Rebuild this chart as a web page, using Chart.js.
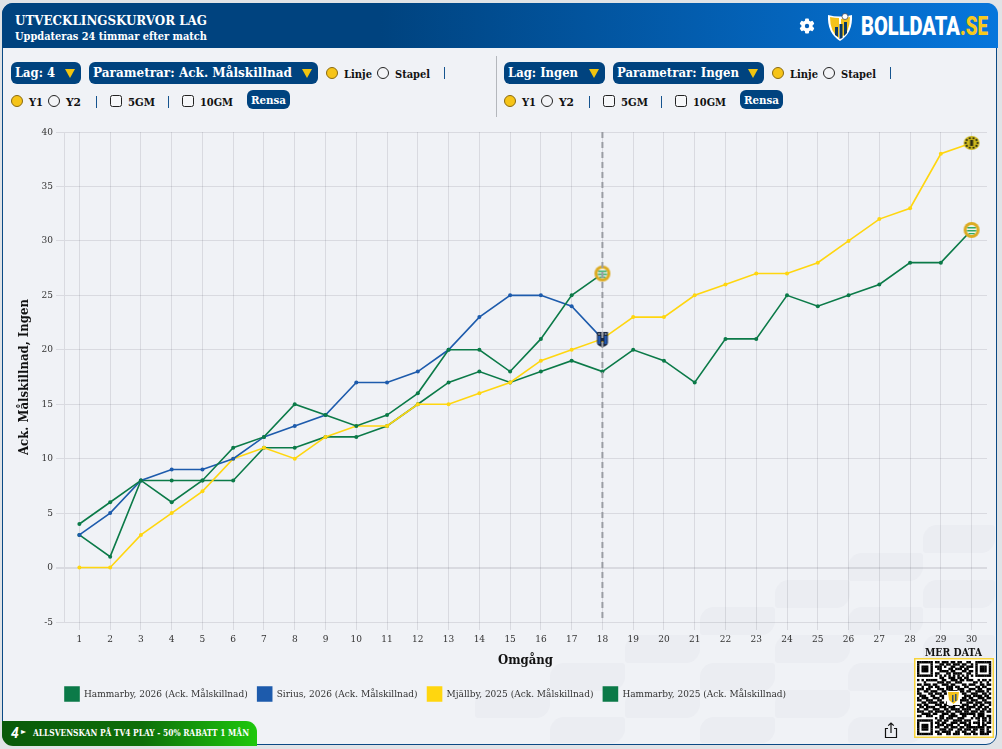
<!DOCTYPE html>
<html lang="sv">
<head>
<meta charset="utf-8">
<title>Utvecklingskurvor lag</title>
<script src="https://cdn.jsdelivr.net/npm/chart.js@4/dist/chart.umd.min.js"></script>
<style>
  html, body { margin: 0; height: 100%; background: #e0e3e6; overflow: hidden; }
  body { font-family: "DejaVu Serif Condensed", "DejaVu Serif", serif; }
  #card { position: absolute; left: 2px; top: 3px; width: 993px; height: 740px; border: 1.5px solid #0b4a85;
          border-radius: 11px; background: #f0f2f6; overflow: hidden; }
  #stage { position: absolute; left: 0; top: 0; width: 1002px; height: 749px; }
  #head { position: absolute; left: 2px; top: 3px; width: 996px; height: 45px; border-radius: 11px 11px 0 0;
          background: linear-gradient(90deg, #00437f 0%, #00437f 38%, #0676dc 100%); }
  .t { position: absolute; white-space: nowrap; transform-origin: left center; line-height: 1; }
  .pill { position: absolute; background: #00437f; border-radius: 6px; }
  .tri { position: absolute; width: 0; height: 0; border-left: 5px solid transparent; border-right: 5px solid transparent; border-top: 9px solid #f1c40f; }
  .radio { position: absolute; width: 10px; height: 10px; border: 1px solid #222; border-radius: 50%; background: #f3f4f7; }
  .radio.on { background: #f6c418; border-color: #8a6a10; }
  .check { position: absolute; width: 10px; height: 10px; border: 1px solid #222; border-radius: 2.5px; background: #f6f7f9; }
  .pipe { position: absolute; width: 1.3px; height: 12px; background: #15548f; }
  .blob { position: absolute; width: 75px; height: 27.5px; background: rgba(40,50,70,.022); border-radius: 14px 3px 14px 3px; }
  #chart { position: absolute; left: 0; top: 120px; }
  #ad { position: absolute; left: 2px; top: 721px; width: 255px; height: 25px; border-radius: 0 11px 0 11px;
        background: linear-gradient(90deg, #0a5a0a 0%, #0d6f09 55%, #1ec80c 100%); }
  #qr { position: absolute; left: 914px; top: 658px; }
</style>
</head>
<body>
<div id="stage">
  <div id="card"></div>
  <div id="blobs"></div>
  <div id="head"></div>
  <canvas id="chart" width="1002" height="625"></canvas>
  <div id="ad"></div>
  <canvas id="qr" width="80" height="80"></canvas>
  <svg style="position:absolute;left:799px;top:18px" width="16" height="16" viewBox="0 0 16 16">
    <g fill="#fff"><rect x="6" y="0.5" width="4" height="15" rx="1"/><rect x="6" y="0.5" width="4" height="15" rx="1" transform="rotate(60 8 8)"/><rect x="6" y="0.5" width="4" height="15" rx="1" transform="rotate(120 8 8)"/></g>
    <circle cx="8" cy="8" r="4.2" fill="none" stroke="#fff" stroke-width="3"/><circle cx="8" cy="8" r="2.2" fill="#0660ba"/>
  </svg>
  <svg style="position:absolute;left:827px;top:13px" width="26" height="29" viewBox="0 0 26 29">
    <path d="M1 2 Q13 5 25 2 Q26 20 13 28 Q0 20 1 2Z" fill="#fff"/>
    <path d="M3 4 Q8 5 12 5 L12 25 Q3 19 3 4Z" fill="#f3c21b"/>
    <path d="M14 6 L23 4 Q23 19 14 25Z" fill="#f3c21b"/>
    <path d="M8 14 h3 v10 l-3 -2Z M12.5 11 h3 v14 l-3 1Z M17 9 h3 v11 l-3 3Z" fill="#0b3a66"/>
    <circle cx="18" cy="3.5" r="3" fill="#fff" stroke="#334" stroke-width=".7"/>
  </svg>
  <svg style="position:absolute;left:884px;top:722px" width="14" height="17" viewBox="0 0 14 17" fill="none" stroke="#111" stroke-width="1.2">
    <path d="M4 6.5H1.5V15.5H12.5V6.5H10"/><path d="M7 11V1M4.2 3.6L7 1L9.8 3.6"/>
  </svg>
</div>
<script>
const rounds = ['1','2','3','4','5','6','7','8','9','10','11','12','13','14','15','16','17','18','19','20','21','22','23','24','25','26','27','28','29','30'];
const hammarby2026 = [4,6,8,6,8,11,12,15,14,13,14,16,20,20,18,21,25,27];
const sirius2026 = [3,5,8,9,9,10,12,13,14,17,17,18,20,23,25,25,24,21];
const mjallby2025 = [0,0,3,5,7,10,11,10,12,13,13,15,15,16,17,19,20,21,23,23,25,26,27,27,28,30,32,33,38,39];
const hammarby2025 = [3,1,8,8,8,8,11,11,12,12,13,15,17,18,17,18,19,18,20,19,17,21,21,25,24,25,26,28,28,31];
const seriesNames = ['Hammarby, 2026 (Ack. Målskillnad)','Sirius, 2026 (Ack. Målskillnad)','Mjällby, 2025 (Ack. Målskillnad)','Hammarby, 2025 (Ack. Målskillnad)'];
const currentRound = '18';

const GREEN = '#0b7a48', BLUE = '#1d5bac', YELLOW = '#ffd60f';
const GRID = 'rgba(60,65,80,.13)';
const serif = '"DejaVu Serif Condensed", "DejaVu Serif", serif';

// small crests for the last point of each line
function crest(draw) {
  const c = document.createElement('canvas');
  c.width = 18; c.height = 18;
  draw(c.getContext('2d'));
  return c;
}
const hammarbyCrest = crest(g => {
  g.fillStyle = '#dcab22'; g.beginPath(); g.arc(9, 9, 8, 0, 7); g.fill();
  g.fillStyle = '#eef3ea'; g.beginPath(); g.arc(9, 9, 5, 0, 7); g.fill();
  g.fillStyle = '#2fa865'; g.fillRect(4.8, 6, 8.4, 1.5); g.fillRect(4.4, 9, 9.2, 1.5); g.fillRect(6, 12, 6, 1.2);
});
const siriusCrest = crest(g => {
  g.fillStyle = '#1a2740'; g.beginPath(); g.moveTo(3.5, 2); g.lineTo(14.5, 2); g.lineTo(14.5, 13); g.quadraticCurveTo(14, 16, 9, 17); g.quadraticCurveTo(4, 16, 3.5, 13); g.fill();
  g.fillStyle = '#1f57b0'; g.fillRect(4.5, 6, 2.5, 8); g.fillRect(11, 6, 2.5, 8);
  g.fillStyle = '#9aa3ad'; g.fillRect(5, 3, 1.4, 2); g.fillRect(8.3, 3, 1.4, 2); g.fillRect(11.6, 3, 1.4, 2);
  g.fillStyle = '#e3b82a'; g.fillRect(8.4, 11, 1.3, 2);
});
const mjallbyCrest = crest(g => {
  g.fillStyle = '#cdb81c'; g.beginPath(); g.ellipse(9, 9, 8, 7, 0, 0, 7); g.fill();
  g.fillStyle = '#2b2a12';
  for (let a = 0; a < 10; a++) {
    g.beginPath(); g.arc(9 + 6 * Math.cos(a * 0.628), 9 + 5 * Math.sin(a * 0.628), 1.1, 0, 7); g.fill();
  }
  g.fillRect(7.5, 6, 3, 6);
});

// dashed line at the current round
const roundMarker = {
  id: 'roundMarker',
  afterDatasetsDraw(chart) {
    const x = chart.scales.x.getPixelForValue(rounds.indexOf(currentRound));
    const { top, bottom } = chart.chartArea;
    const g = chart.ctx;
    g.save();
    g.strokeStyle = '#9a9da3'; g.lineWidth = 2; g.setLineDash([6, 4]);
    g.beginPath(); g.moveTo(x, top); g.lineTo(x, bottom); g.stroke();
    g.restore();
  }
};
const legendLeft = {
  id: 'legendLeft',
  afterLayout(chart) { chart.legend.left = 55; chart.legend.top = 557; }
};

function line(label, data, color, badge) {
  return {
    label, data,
    borderColor: color, backgroundColor: color,
    borderWidth: 1.6, tension: 0,
    pointRadius: 2, pointHoverRadius: 2, pointBorderWidth: 0,
    pointStyle: c => c.dataIndex === data.length - 1 ? badge : 'circle'
  };
}

new Chart(document.getElementById('chart'), {
  type: 'line',
  data: {
    labels: rounds,
    datasets: [
      line(seriesNames[0], hammarby2026, GREEN, hammarbyCrest),
      line(seriesNames[1], sirius2026, BLUE, siriusCrest),
      line(seriesNames[2], mjallby2025, YELLOW, mjallbyCrest),
      line(seriesNames[3], hammarby2025, GREEN, hammarbyCrest)
    ]
  },
  options: {
    responsive: false, animation: false, events: [],
    layout: { padding: { left: 8, top: 12, right: 15, bottom: 43 } },
    plugins: {
      tooltip: { enabled: false },
      legend: {
        position: 'bottom', align: 'start',
        labels: { boxWidth: 14, boxHeight: 14, padding: 10, color: '#333', font: { family: serif, size: 10 } }
      }
    },
    scales: {
      x: {
        offset: true,
        afterFit(s) { s.height = 46; },
        grid: { color: GRID, tickLength: 8 },
        border: { display: false },
        ticks: { padding: 3, maxRotation: 0, autoSkip: false, color: '#333', font: { family: serif, size: 10 } },
        title: { display: true, text: 'Omgång', color: '#111', padding: 0, font: { family: serif, size: 13, weight: 'bold' } }
      },
      y: {
        min: -5, max: 40,
        afterFit(s) { s.width = 56; },
        grid: { color: GRID, tickLength: 8, lineWidth: c => c.tick.value === 0 ? 2 : 1 },
        border: { color: GRID },
        ticks: { stepSize: 5, padding: 3, color: '#333', font: { family: serif, size: 10 } },
        title: { display: true, text: 'Ack. Målskillnad, Ingen', color: '#111', padding: { top: 9, bottom: 0 }, font: { family: serif, size: 13, weight: 'bold' } }
      }
    }
  },
  plugins: [roundMarker, legendLeft]
});

// page furniture around the chart
const stage = document.getElementById('stage');
function text(str, x, w, cy, size, color, weight, family) {
  const el = document.createElement('div');
  el.className = 't';
  el.textContent = str;
  el.style.cssText = `left:${x}px;top:${cy}px;font-size:${size}px;color:${color};font-weight:${weight || 'bold'};` + (family ? `font-family:${family};` : '');
  stage.appendChild(el);
  const k = w / el.getBoundingClientRect().width;
  el.style.transform = `translateY(-50%) scaleX(${k})`;
  return el;
}
function box(cls, x, y, w, h) {
  const el = document.createElement('div');
  el.className = cls;
  el.style.left = x + 'px'; el.style.top = y + 'px';
  if (w) { el.style.width = w + 'px'; el.style.height = h + 'px'; }
  stage.appendChild(el);
  return el;
}

const blobSpots = [[923,525],[848,553],[775,580],[923,580],[700,607],[848,607],[625,635],[775,635],[923,635],[550,663],[700,663],[848,663],[475,690],[625,690],[775,690],[923,690],[550,717],[700,717],[848,717]];
const blobs = document.getElementById('blobs');
blobSpots.forEach(([x, y]) => {
  const b = document.createElement('div');
  b.className = 'blob';
  b.style.left = x + 'px'; b.style.top = y + 'px';
  if (x + 75 > 995) b.style.width = (995 - x) + 'px';
  if (y + 27.5 > 743) b.style.height = (743 - y) + 'px';
  blobs.appendChild(b);
});

text('UTVECKLINGSKURVOR LAG', 15, 192, 21, 12.5, '#fff');
text('Uppdateras 24 timmar efter match', 15, 192, 37, 11.5, '#fff');
text('BOLLDATA', 861, 99, 26, 25, '#fff', '900', 'Roboto');
text('.SE', 960, 28, 26, 25, '#f6c91d', '900', 'Roboto');

function panel(dx, lagText, lagW, paramText, paramX, paramW, paramTextW, lagTextW, shift) {
  box('pill', 11 + dx, 62, lagW, 22);
  text(lagText, 15 + dx, lagTextW, 73, 12.5, '#fff');
  box('tri', 11 + dx + lagW - 16, 69);
  box('pill', paramX, 62, paramW, 22);
  text(paramText, paramX + 4, paramTextW, 73, 12.5, '#fff');
  box('tri', paramX + paramW - 16, 69);
  const r = paramX + paramW;
  box('radio on', r + 8, 67);
  text('Linje', r + 26, 28, 74, 11, '#111');
  box('radio', r + 59, 67);
  text('Stapel', r + 77, 35, 74, 11, '#111');
  box('pipe', r + 126, 67);
  const a = 11 + dx + shift;
  box('radio on', a - shift, 95);
  text('Y1', a + 18 - shift, 14, 102, 11, '#111');
  box('radio', a + 37, 95);
  text('Y2', a + 55, 15, 102, 11, '#111');
  box('pipe', a + 85, 96);
  box('check', a + 99, 95);
  text('5GM', a + 117, 27, 102, 11, '#111');
  box('pipe', a + 157, 96);
  box('check', a + 171, 95);
  text('10GM', a + 189, 33, 102, 11, '#111');
  box('pill', a + 236, 90, 43, 19);
  text('Rensa', a + 240, 35, 100, 11, '#fff');
}
panel(0, 'Lag: 4', 70, 'Parametrar: Ack. Målskillnad', 89, 229, 199, 40, 0);
panel(493, 'Lag: Ingen', 101, 'Parametrar: Ingen', 613, 151, 122, 70, 0);
box('pipe', 495.5, 56, 1.3, 61).style.background = '#b4b7bc';

text('MER DATA', 925, 57, 652, 11, '#111');
text('ALLSVENSKAN PÅ TV4 PLAY - 50% RABATT 1 MÅN', 33, 216, 733, 9, '#fff');
const four = text('4', 11, 8, 733, 14, '#fff', 'bold', 'Roboto');
four.style.fontStyle = 'italic';
text('▸', 21, 5, 732, 8, '#fff', 'normal', 'DejaVu Sans');

// QR badge, drawn module by module
const qrRows = [
  '111111101101110110110011001111111','100000100011011011101100101000001','101110101110100110011011101011101',
  '101110100110001101110110001011101','101110100011110110001101101011101','100000101100011011110011001000001',
  '111111101010101010101010101111111','000000000011001110110110000000000','101011111001100111011011100101101',
  '000100000111011001110000011010010','110111011001110110001101110011011','001001101100011101100110001101100',
  '111011000111011100111001110110011','100110111001101111011011001111010','110001101110110000001100111001101',
  '011100110011000000000111011110110','101110011101000000001101100111011','110011100110000000011110111001100',
  '001101111011011000110011101110111','110110001110110011101110011011001','011011110011101110011011110110110',
  '100110011100110111101111001101101','111001101111011001110110111011011','001111011001110110011111110111000',
  '110011100011001111001100010111011','000000001011011100111000101101101','111111100110110011110111000101101',
  '100000101101100111011101011101011','101110100111011100100111000101100','101110101100110111011011111111011',
  '101110100011101100110111011011010','100000101101111001101100110011011','111111100110011011100111011011110'
];
const qr = document.getElementById('qr').getContext('2d');
qr.fillStyle = '#f6d33c'; qr.fillRect(0, 0, 80, 80);
qr.fillStyle = '#fff'; qr.fillRect(1.5, 1.5, 77, 77);
qr.fillStyle = '#000';
const cell = 74 / 33;
qrRows.forEach((row, r) => [...row].forEach((v, c) => {
  if (v === '1') qr.fillRect(3 + c * cell, 3 + r * cell, cell + .2, cell + .2);
}));
qr.fillStyle = '#fff'; qr.fillRect(33, 33, 13, 14);
qr.fillStyle = '#f3c21b'; qr.beginPath(); qr.moveTo(34, 34); qr.lineTo(45, 34); qr.lineTo(44, 42); qr.lineTo(39.5, 46); qr.lineTo(35, 42); qr.fill();
qr.fillStyle = '#33536f'; qr.fillRect(38, 37, 1.5, 7); qr.fillRect(41, 36, 1.5, 7);
</script>
</body>
</html>
